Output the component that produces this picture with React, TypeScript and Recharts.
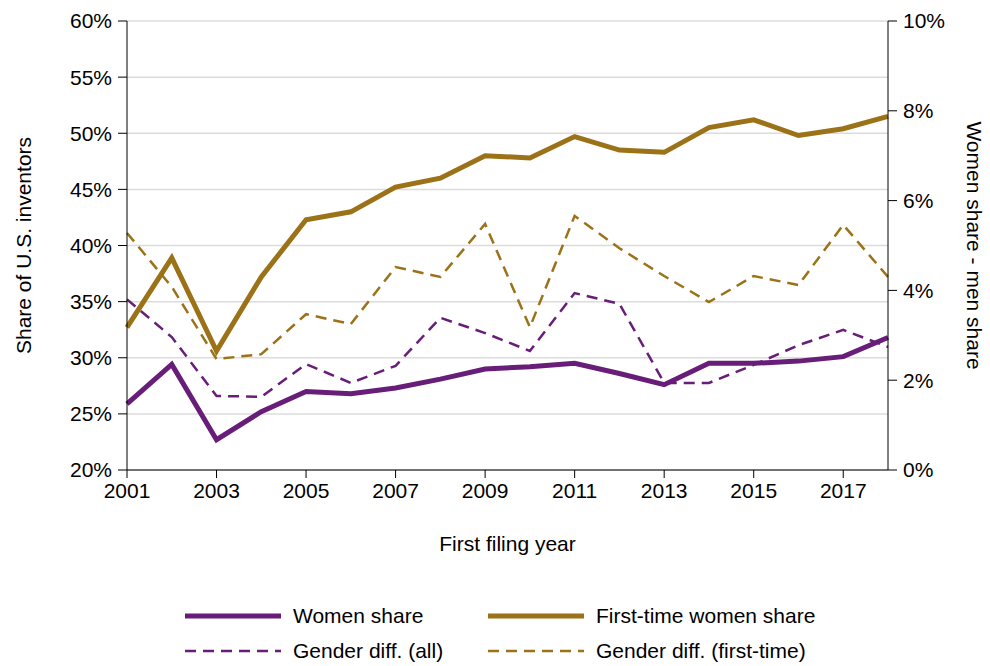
import { LineChart, Line, XAxis, YAxis, CartesianGrid } from "recharts";

const years = [2001, 2002, 2003, 2004, 2005, 2006, 2007, 2008, 2009, 2010, 2011, 2012, 2013, 2014, 2015, 2016, 2017, 2018];
// left axis (%)
const womenShare = [25.9, 29.4, 22.7, 25.2, 27.0, 26.8, 27.3, 28.1, 29.0, 29.2, 29.5, 28.6, 27.6, 29.5, 29.5, 29.7, 30.1, 31.8];
const firstTimeShare = [32.7, 38.9, 30.6, 37.2, 42.3, 43.0, 45.2, 46.0, 48.0, 47.8, 49.7, 48.5, 48.3, 50.5, 51.2, 49.8, 50.4, 51.5];
// right axis (% points)
const diffAll = [3.8, 2.96, 1.65, 1.63, 2.36, 1.94, 2.32, 3.39, 3.05, 2.65, 3.94, 3.7, 1.94, 1.94, 2.34, 2.78, 3.12, 2.74];
const diffFirst = [5.28, 4.08, 2.47, 2.58, 3.47, 3.25, 4.52, 4.3, 5.48, 3.18, 5.66, 4.94, 4.32, 3.74, 4.32, 4.12, 5.46, 4.3];

const leftTicks = [20, 25, 30, 35, 40, 45, 50, 55, 60];
const rightTicks = [0, 2, 4, 6, 8, 10];
const xTicks = [2001, 2003, 2005, 2007, 2009, 2011, 2013, 2015, 2017];

const PURPLE = "#681E78";
const GOLD = "#9B7218";
const FONT = "'Liberation Sans', Arial, sans-serif";

const data = years.map((y, i) => ({
  year: y,
  women: womenShare[i],
  firstTime: firstTimeShare[i],
  diffAll: diffAll[i],
  diffFirst: diffFirst[i],
}));

const legendItems = [
  { label: "Women share", color: PURPLE, dashed: false, x: 185, y: 616 },
  { label: "First-time women share", color: GOLD, dashed: false, x: 488, y: 616 },
  { label: "Gender diff. (all)", color: PURPLE, dashed: true, x: 185, y: 651 },
  { label: "Gender diff. (first-time)", color: GOLD, dashed: true, x: 488, y: 651 },
];

const tickStyle = { fill: "#000", fontSize: 21, fontFamily: FONT };

export default function App() {
  return (
    <div style={{ position: "absolute", left: 0, top: 0, width: 990, height: 666, background: "#fff", fontFamily: FONT }}>
      <LineChart width={990} height={666} data={data} margin={{ top: 21, right: 0, bottom: 106, left: 0 }}>
        <CartesianGrid yAxisId="left" horizontal vertical={false} stroke="#dcdcdc" strokeWidth={1.5} />
        <XAxis
          dataKey="year"
          type="number"
          domain={[2001, 2018]}
          ticks={xTicks}
          interval={0}
          height={90}
          tick={tickStyle}
          tickSize={8}
          tickMargin={5}
          stroke="#000"
          tickLine={{ stroke: "#000" }}
          label={{ value: "First filing year", position: "insideBottom", offset: 9, style: tickStyle }}
        />
        <YAxis
          yAxisId="left"
          orientation="left"
          domain={[20, 60]}
          ticks={leftTicks}
          interval={0}
          width={127}
          tick={tickStyle}
          tickSize={9}
          tickMargin={6}
          stroke="#000"
          tickFormatter={(v) => `${v}%`}
          label={{ value: "Share of U.S. inventors", angle: -90, position: "insideLeft", offset: 24, style: { ...tickStyle, textAnchor: "middle" } }}
        />
        <YAxis
          yAxisId="right"
          orientation="right"
          domain={[0, 10]}
          ticks={rightTicks}
          interval={0}
          width={102}
          tick={tickStyle}
          tickSize={9}
          tickMargin={6}
          stroke="#000"
          tickFormatter={(v) => `${v}%`}
          label={{ value: "Women share - men share", angle: 90, position: "insideRight", offset: 16, style: { ...tickStyle, textAnchor: "middle" } }}
        />
        <Line yAxisId="left" dataKey="women" stroke={PURPLE} strokeWidth={5} dot={false} isAnimationActive={false} />
        <Line yAxisId="left" dataKey="firstTime" stroke={GOLD} strokeWidth={5} dot={false} isAnimationActive={false} />
        <Line yAxisId="right" dataKey="diffAll" stroke={PURPLE} strokeWidth={2.5} strokeDasharray="11 7" dot={false} isAnimationActive={false} />
        <Line yAxisId="right" dataKey="diffFirst" stroke={GOLD} strokeWidth={2.5} strokeDasharray="11 7" dot={false} isAnimationActive={false} />
      </LineChart>

      {/* legend */}
      {legendItems.map((it) => (
        <div key={it.label} style={{ position: "absolute", left: it.x, top: it.y - 13, height: 26, display: "flex", alignItems: "center" }}>
          <svg width={96} height={26}>
            <line
              x1={0}
              x2={96}
              y1={13}
              y2={13}
              stroke={it.color}
              strokeWidth={it.dashed ? 2.5 : 5}
              strokeDasharray={it.dashed ? "11 7" : undefined}
            />
          </svg>
          <span style={{ marginLeft: 12, fontSize: 21, color: "#000", whiteSpace: "nowrap" }}>{it.label}</span>
        </div>
      ))}
    </div>
  );
}
